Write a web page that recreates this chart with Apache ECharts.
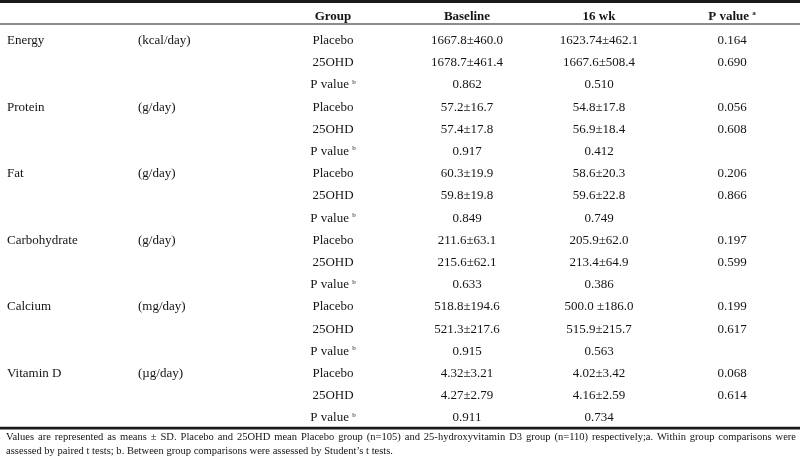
<!DOCTYPE html>
<html>
<head>
<meta charset="utf-8">
<script src="https://cdn.jsdelivr.net/npm/echarts@6/dist/echarts.min.js"></script>
<style>html,body{margin:0;padding:0;background:#fff}#c{width:800px;height:458px}</style>
</head>
<body>
<div id="c"></div>
<script>
// ---- data ----
const headers = ['', '', 'Group', 'Baseline', '16 wk', 'P value {sup|a}'];
const nutrients = ['Energy', 'Protein', 'Fat', 'Carbohydrate', 'Calcium', 'Vitamin D'];
const units = ['(kcal/day)', '(g/day)', '(g/day)', '(g/day)', '(mg/day)', '(µg/day)'];
const groups = ['Placebo', '25OHD', 'P value {sup|b}'];
const baselineVals = [
  ['1667.8±460.0', '1678.7±461.4', '0.862'],
  ['57.2±16.7', '57.4±17.8', '0.917'],
  ['60.3±19.9', '59.8±19.8', '0.849'],
  ['211.6±63.1', '215.6±62.1', '0.633'],
  ['518.8±194.6', '521.3±217.6', '0.915'],
  ['4.32±3.21', '4.27±2.79', '0.911']
];
const wk16Vals = [
  ['1623.74±462.1', '1667.6±508.4', '0.510'],
  ['54.8±17.8', '56.9±18.4', '0.412'],
  ['58.6±20.3', '59.6±22.8', '0.749'],
  ['205.9±62.0', '213.4±64.9', '0.386'],
  ['500.0 ±186.0', '515.9±215.7', '0.563'],
  ['4.02±3.42', '4.16±2.59', '0.734']
];
const pWithin = [
  ['0.164', '0.690'],
  ['0.056', '0.608'],
  ['0.206', '0.866'],
  ['0.197', '0.599'],
  ['0.199', '0.617'],
  ['0.068', '0.614']
];
const footnoteLines = [
  'Values are represented as means ± SD. Placebo and 25OHD mean Placebo group (n=105) and 25-hydroxyvitamin D3 group (n=110) respectively;a. Within group comparisons were',
  'assessed by paired t tests; b. Between group comparisons were assessed by Student’s t tests.'
];

// ---- layout ----
const FONT = '"Liberation Serif", "Times New Roman", serif';
const TXT = '#141414';
const colX = [7, 138, 333, 467, 599, 732];
const colAlign = ['left', 'left', 'center', 'center', 'center', 'center'];

// build cell table
const rowIds = [];
const cells = []; // [col, row, text]
nutrients.forEach((n, i) => {
  for (let k = 0; k < 3; k++) {
    const r = i * 3 + k;
    rowIds.push('r' + r);
    if (k === 0) { cells.push([0, r, n]); cells.push([1, r, units[i]]); }
    cells.push([2, r, groups[k]]);
    cells.push([3, r, baselineVals[i][k]]);
    cells.push([4, r, wk16Vals[i][k]]);
    if (k < 2) cells.push([5, r, pWithin[i][k]]);
  }
});
const headCells = headers.map((h, c) => [c, 0, h]).filter(d => d[2] !== '');

function cellRenderer(bold) {
  return function (params, api) {
    const d = (bold ? headCells : cells)[params.dataIndex];
    const p = api.coord([colX[d[0]], d[1]]);
    return {
      type: 'text',
      x: p[0], y: p[1],
      style: {
        text: d[2],
        fill: TXT,
        align: colAlign[d[0]],
        verticalAlign: 'middle',
        font: (bold ? 'bold ' : '') + '13px ' + FONT,
        rich: {
          sup: { fontSize: 7, fontFamily: FONT, fontWeight: bold ? 'bold' : 'normal', verticalAlign: 'top', fill: TXT }
        }
      }
    };
  };
}

// footnote: first line justified
const FOOT_FONT = '11px ' + FONT;
const ctx = document.createElement('canvas').getContext('2d');
ctx.font = FOOT_FONT;
const footLeft = 6, footRight = 796, line2Right = 393;
const footY = [437, 451];
const scale = (line2Right - footLeft) / ctx.measureText(footnoteLines[1]).width;
const footGraphics = [];
(function () {
  const words = footnoteLines[0].split(' ');
  const nat = words.map(w => ctx.measureText(w).width);
  const natTotal = nat.reduce((a, b) => a + b, 0);
  const minGap = 2.2;
  const s1 = Math.min(scale, (footRight - footLeft - minGap * (words.length - 1)) / natTotal);
  const widths = nat.map(w => w * s1);
  const gap = (footRight - footLeft - natTotal * s1) / (words.length - 1);
  let x = footLeft;
  words.forEach((w, i) => {
    footGraphics.push({
      type: 'text', x: x, y: footY[0], scaleX: s1, originX: 0,
      style: { text: w, font: FOOT_FONT, fill: TXT, verticalAlign: 'middle', align: 'left' }
    });
    x += widths[i] + gap;
  });
})();
footGraphics.push({
  type: 'text', x: footLeft, y: footY[1], scaleX: scale, originX: 0,
  style: { text: footnoteLines[1], font: FOOT_FONT, fill: TXT, verticalAlign: 'middle', align: 'left' }
});

const chart = echarts.init(document.getElementById('c'), null, { renderer: 'canvas' });
chart.setOption({
  backgroundColor: '#ffffff',
  animation: false,
  grid: [
    { left: 0, right: 0, top: 29.5, height: 399.6 },
    { left: 0, right: 0, top: 5.5, height: 22 }
  ],
  xAxis: [
    { gridIndex: 0, type: 'value', min: 0, max: 800, show: false },
    { gridIndex: 1, type: 'value', min: 0, max: 800, show: false }
  ],
  yAxis: [
    { gridIndex: 0, type: 'category', data: rowIds, inverse: true, show: false },
    { gridIndex: 1, type: 'category', data: ['h'], show: false }
  ],
  series: [
    { type: 'custom', xAxisIndex: 0, yAxisIndex: 0, renderItem: cellRenderer(false), data: cells.map(d => [colX[d[0]], d[1]]), silent: true },
    { type: 'custom', xAxisIndex: 1, yAxisIndex: 1, renderItem: cellRenderer(true), data: headCells.map(d => [colX[d[0]], 0]), silent: true }
  ],
  graphic: [
    { type: 'rect', shape: { x: 0, y: 0, width: 800, height: 3 }, style: { fill: '#1a1a1a' } },
    { type: 'rect', shape: { x: 0, y: 23.5, width: 800, height: 1 }, style: { fill: '#1a1a1a' } },
    { type: 'rect', shape: { x: 0, y: 426.8, width: 800, height: 2.6 }, style: { fill: '#1a1a1a' } }
  ].concat(footGraphics)
});
</script>
</body>
</html>
